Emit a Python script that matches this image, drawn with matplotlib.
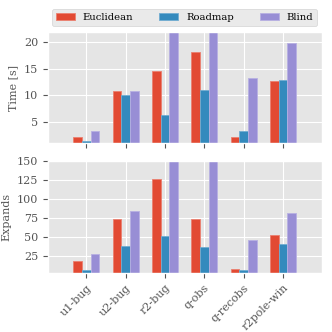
import matplotlib
matplotlib.use("Agg")
import matplotlib.pyplot as plt
import matplotlib.colors as mcolors
import numpy as np

plt.style.use("ggplot")
plt.rcParams['font.family'] = ['DejaVu Serif']

categories = ["u1-bug", "u2-bug", "r2-bug", "q-obs", "q-recobs", "r2pole-win"]
series = ["Euclidean", "Roadmap", "Blind"]
time_euclid = [2.25, 10.8, 14.5, 18.1, 2.2, 12.6]
time_roadmap = [1.6, 10.0, 6.3, 11.0, 3.4, 12.8]
time_blind = [3.3, 10.8, 24.0, 24.0, 13.2, 19.8]
exp_euclid = [18, 74, 126, 74, 8, 53]
exp_roadmap = [6, 38, 51, 36, 6, 40]
exp_blind = [27, 84, 170, 170, 46, 81]

colors = ["#E24A33", "#348ABD", "#988ED5"]


def lighten(c, f=0.3):
    r, g, b = mcolors.to_rgb(c)
    return (r + (1 - r) * f, g + (1 - g) * f, b + (1 - b) * f)


fig = plt.figure(figsize=(3.32, 3.32), dpi=100)
ax1 = fig.add_axes([48/332, 1-143/332, 274/332, 111/332])
ax2 = fig.add_axes([48/332, 1-273/332, 274/332, 112/332], sharex=ax1)

x = np.arange(len(categories))
w = 0.22
for ax, data in [(ax1, [time_euclid, time_roadmap, time_blind]),
                 (ax2, [exp_euclid, exp_roadmap, exp_blind])]:
    for i, (name, vals) in enumerate(zip(series, data)):
        ax.bar(x + (i - 1) * w, vals, width=w, color=colors[i], label=name,
               edgecolor=lighten(colors[i]), linewidth=0.6)
    ax.tick_params(labelsize=8)

ax1.set_ylim(1.15, 21.8)
ax1.set_yticks([5, 10, 15, 20])
ax2.set_ylim(2.2, 150)
ax2.set_yticks([25, 50, 75, 100, 125, 150])
ax1.set_xlim(-0.97, 5.99)
ax1.set_xticks(x)
plt.setp(ax1.get_xticklabels(), visible=False)
ax2.set_xticklabels(categories, rotation=45, ha="right", rotation_mode="anchor")
ax1.set_ylabel("Time [s]", fontsize=8)
ax2.set_ylabel("Expands", fontsize=8)

ax1.legend(loc="lower left", bbox_to_anchor=(0.013, 1.055, 0.97, 0.1), ncol=3,
           mode="expand", fontsize=7.2, borderaxespad=0, handlelength=1.9)

fig.savefig("out.png", dpi=100)
